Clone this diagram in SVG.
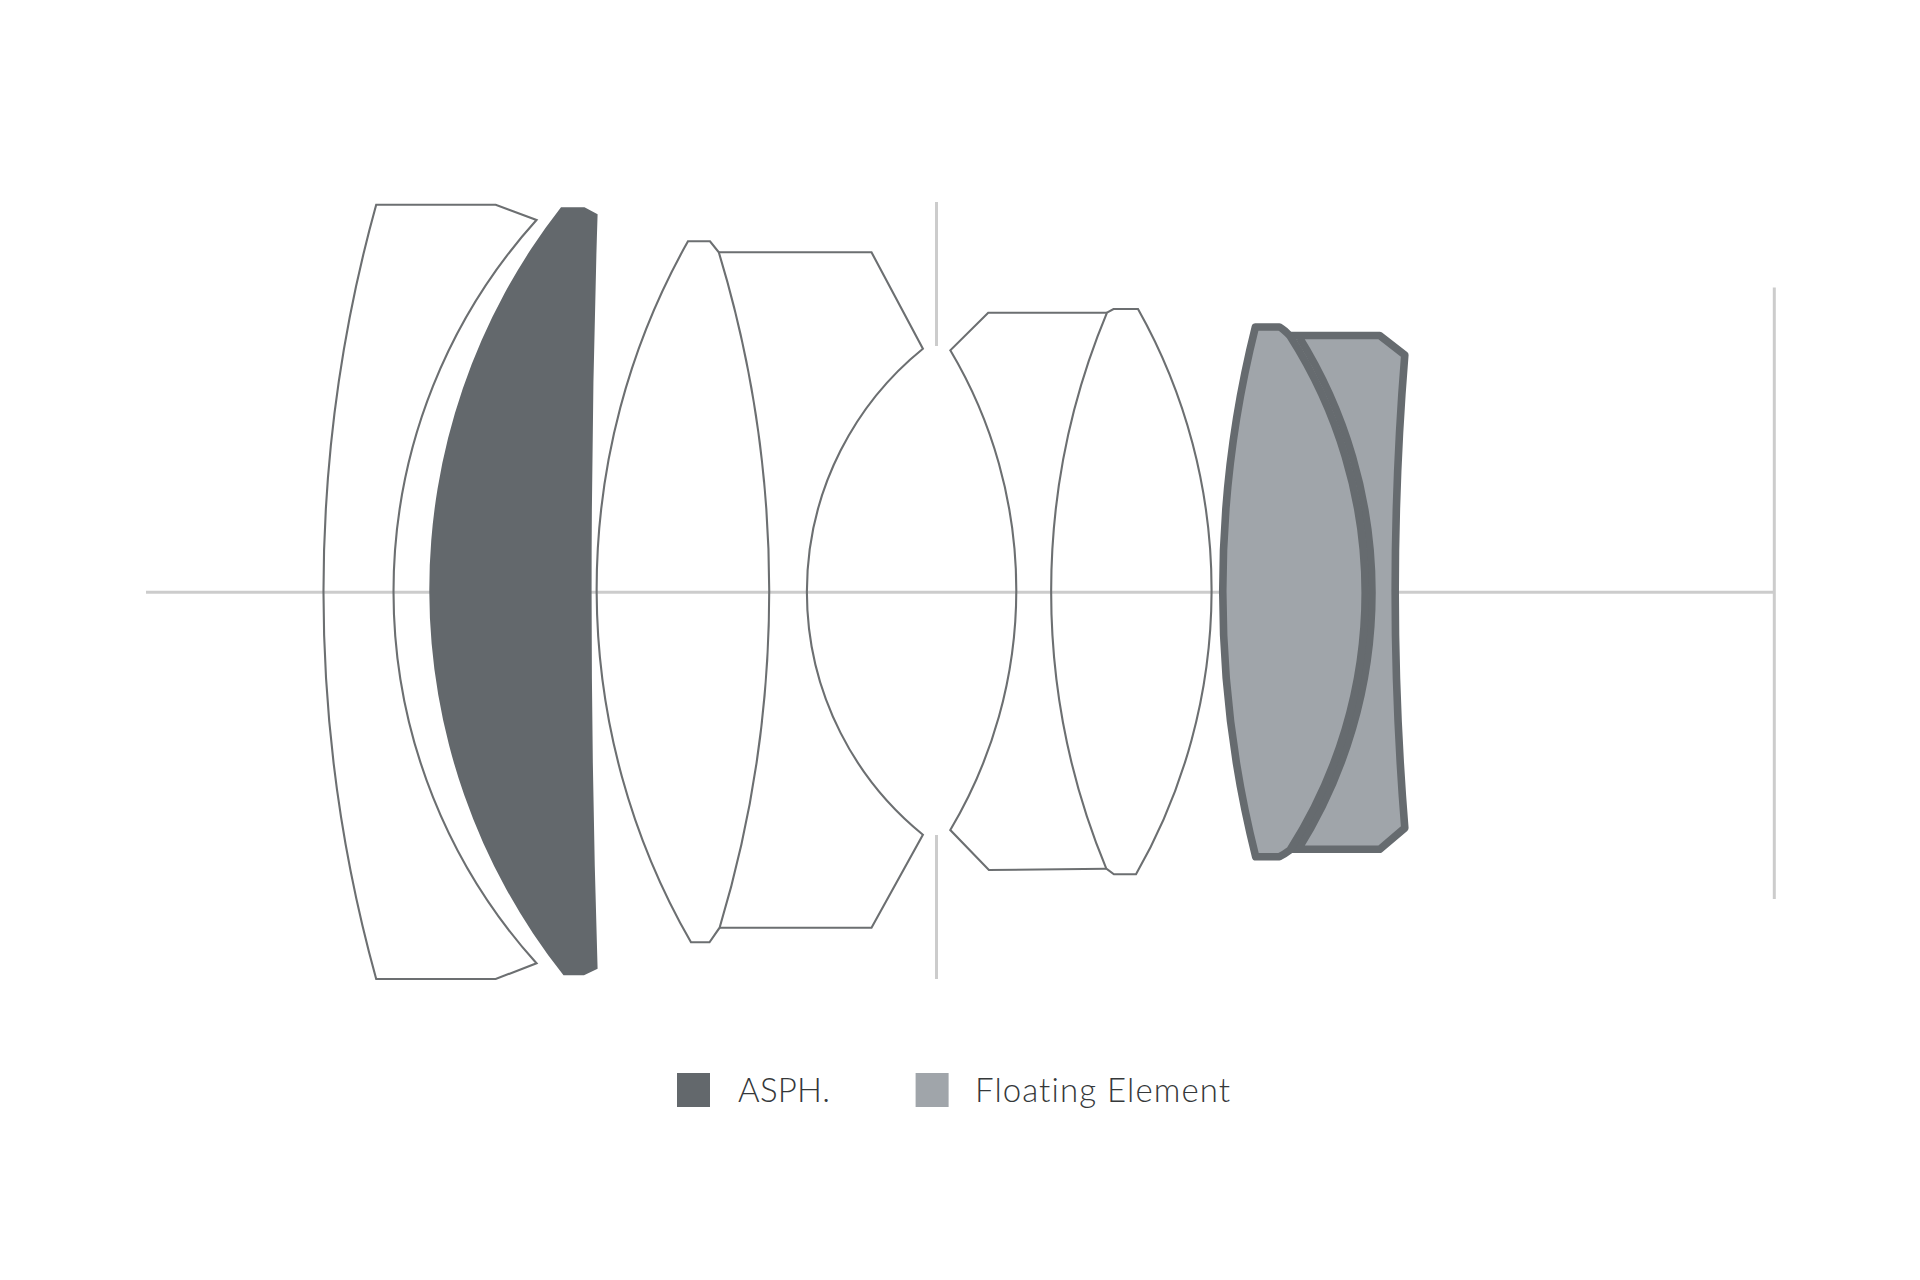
<svg xmlns="http://www.w3.org/2000/svg" width="1920" height="1280" viewBox="0 0 1920 1280">
<style>
.ax{stroke:#cccccc;stroke-width:3;fill:none}
.thin{fill:none;stroke:#6c6f71;stroke-width:2.1;stroke-linejoin:miter}
.dark{fill:#63686c;stroke:none}
.float{fill:#a0a5aa;stroke:#666b6f;stroke-width:7.6;stroke-linejoin:round}
.lbl{font-family:"Lato","Liberation Sans",sans-serif;font-weight:300;font-size:33px;fill:#35383a;font-variant-ligatures:none}
</style>
<rect width="1920" height="1280" fill="#ffffff"/>
<g id="connectors">
<path class="ax" d="M146 592.3H1774"/>
<path class="ax" d="M936.5 202V346M936.5 835V979"/>
<path class="ax" d="M1774.3 287.5V899"/>
</g>
<g id="lens1"><path class="thin" d="M376.2 204.7H495.7L536.5 220A554.5 554.5 0 0 0 536.5 963.3L495.7 979H376.2A1448 1448 0 0 1 376.2 204.7Z"/></g>
<g id="lens2"><path class="dark" d="M561 207.3H584.5L597.6 214.3A11847 11847 0 0 0 597.6 968.7L584 975.3H563.5A621 621 0 0 1 561 207.3Z"/></g>
<g id="lens3"><path class="thin" d="M688 241.3H710L718.8 252.3A1165 1165 0 0 1 719.6 927.7L709.5 942.3H691A708 708 0 0 1 688 241.3Z"/></g>
<g id="lens4"><path class="thin" d="M718.8 252.3H871.5L922.9 348.7A312.5 312.5 0 0 0 922.9 834.7L871.5 927.7H719.6"/></g>
<g id="lens5"><path class="thin" d="M1107 312.7H988.2L950.3 350.3A468.8 468.8 0 0 1 950.3 830L988.9 870L1106.3 868.7"/></g>
<g id="lens6"><path class="thin" d="M1107 312.7L1113.5 309H1138A573 573 0 0 1 1136 874.3H1113.9L1106.3 868.7A724 724 0 0 1 1107 312.7Z"/></g>
<g id="lens8"><path class="float" d="M1290 335.5H1379.7L1404.8 355A2918 2918 0 0 0 1404.8 828L1379.7 849.3H1290L1298.4 849A484 484 0 0 0 1298.4 336Z"/></g>
<g id="lens7"><path class="float" d="M1255.4 327H1279.5Q1284 329.5 1290 336A476.8 476.8 0 0 1 1290 850Q1284 854.5 1279.5 856.7H1255.7A1085.7 1085.7 0 0 1 1255.4 327Z"/></g>
<g id="legend-asph"><rect class="dark" x="677" y="1073" width="33" height="34"/><text class="lbl" x="738" y="1102" textLength="92" lengthAdjust="spacing">ASPH.</text></g>
<g id="legend-floating"><rect x="915.6" y="1073" width="33" height="34" fill="#a0a5aa"/><text class="lbl" x="975" y="1102" textLength="255" lengthAdjust="spacing">Floating Element</text></g>
</svg>
